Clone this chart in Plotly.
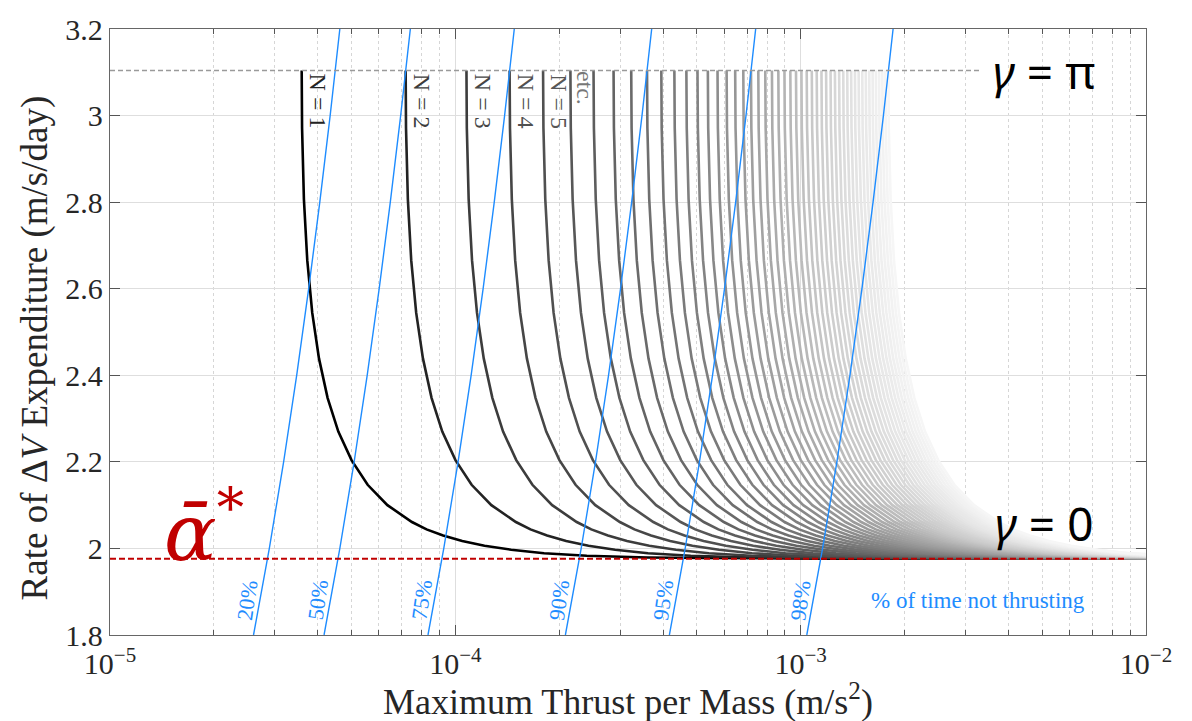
import numpy as np
import plotly.graph_objects as go

# ---------------- data ----------------
alpha_star = 1.976          # m/s/day, red dashed level
gamma_pi_level = 3.104      # m/s/day, grey dashed level (curve tops)
N_values = list(range(1, 51))
n1_asymptote = 3.59e-5      # m/s^2, x where the N = 1 curve tops out

# N = 1 curve: x as a multiple of its top position, and the rate (m/s/day)
base_mult = [1.0, 1.0025, 1.0148, 1.0378, 1.0729, 1.1221, 1.1884, 1.2766,
             1.3940, 1.5523, 1.7710, 2.0858, 2.2990, 2.5679, 2.9163, 3.3839,
             4.0420, 5.0335, 6.6917, 10.017, 14.297, 20.008, 33.338, 50.003,
             100.0, 300.0]
base_rate = [3.104, 2.971, 2.807, 2.666, 2.544, 2.439, 2.348, 2.270,
             2.204, 2.147, 2.100, 2.061, 2.044, 2.030, 2.017, 2.006,
             1.997, 1.989, 1.983, 1.979, 1.978, 1.977, 1.9763, 1.9761,
             1.976, 1.976]

# blue "% of time not thrusting" lines
pct_labels = ["20%", "50%", "75%", "90%", "95%", "98%"]
pct_x_bottom = [2.604e-5, 4.167e-5, 8.333e-5, 2.083e-4, 4.167e-4, 1.0417e-3]
blue_rate = [1.8, 2.0, 2.2, 2.4, 2.6, 2.8, 3.0, 3.2]
blue_mult = [1.0, 1.1111, 1.2222, 1.3333, 1.4444, 1.5556, 1.6667, 1.7778]

y_ticks = [1.8, 2.0, 2.2, 2.4, 2.6, 2.8, 3.0, 3.2]
x_ticks = [1e-5, 1e-4, 1e-3, 1e-2]
x_ticktext = ["10<sup>−5</sup>", "10<sup>−4</sup>", "10<sup>−3</sup>", "10<sup>−2</sup>"]
n_label_text = ["N = 1", "N = 2", "N = 3", "N = 4", "N = 5"]

# ---------------- styling ----------------
SERIF = "Liberation Serif"
BLUE = "rgb(30,140,255)"
RED = "#c00000"
gray_anchor_n = [1, 2, 3, 5, 8, 12, 19, 30, 40, 50]
gray_anchor_v = [0, 35, 60, 80, 100, 122, 155, 200, 228, 246]


def curve_color(n):
    g = int(round(np.interp(n, gray_anchor_n, gray_anchor_v)))
    return f"rgb({g},{g},{g})"


fig = go.Figure()

base_mult_arr = np.array(base_mult)
for n in N_values:
    fig.add_trace(go.Scatter(
        x=base_mult_arr * n1_asymptote * n, y=base_rate, mode="lines",
        line=dict(color=curve_color(n), width=2.6), hoverinfo="skip",
        showlegend=False))

blue_mult_arr = np.array(blue_mult)
for xb in pct_x_bottom:
    fig.add_trace(go.Scatter(
        x=blue_mult_arr * xb, y=blue_rate, mode="lines",
        line=dict(color=BLUE, width=1.4), hoverinfo="skip", showlegend=False))

fig.add_trace(go.Scatter(x=[1e-5, 8.8e-3], y=[alpha_star, alpha_star], mode="lines",
                         line=dict(color=RED, width=2, dash="6px,3px"),
                         hoverinfo="skip", showlegend=False))
fig.add_trace(go.Scatter(x=[1e-5, 3.3e-3], y=[gamma_pi_level, gamma_pi_level], mode="lines",
                         line=dict(color="#9a9a9a", width=1.5, dash="5px,3px"),
                         hoverinfo="skip", showlegend=False))

ann = []
# N labels
for i, t in enumerate(n_label_text):
    n = N_values[i]
    ann.append(dict(x=np.log10(n1_asymptote * n), y=3.033, xref="x", yref="y",
                    text=t, textangle=90, showarrow=False, xshift=16,
                    xanchor="center", yanchor="middle",
                    font=dict(family=SERIF, size=24, color=curve_color(n + 1))))
ann.append(dict(x=np.log10(n1_asymptote * 6), y=3.063, xref="x", yref="y",
                text="etc.", textangle=90, showarrow=False, xshift=14,
                xanchor="center", yanchor="middle",
                font=dict(family=SERIF, size=24, color="#777777")))
# percent labels
for t, xb in zip(pct_labels, pct_x_bottom):
    xl = np.interp(1.88, blue_rate, blue_mult) * xb
    ann.append(dict(x=np.log10(xl), y=1.88, xref="x", yref="y", text=t,
                    textangle=-82, showarrow=False, xshift=-13,
                    xanchor="center", yanchor="middle",
                    font=dict(family=SERIF, size=22, color=BLUE)))
ann.append(dict(x=-2.486, y=1.88, xref="x", yref="y", text="% of time not thrusting",
                showarrow=False, xanchor="center", yanchor="middle",
                font=dict(family=SERIF, size=23, color=BLUE)))
# gamma labels
ann.append(dict(x=-2.295, y=gamma_pi_level, xref="x", yref="y",
                text="<i>γ</i> = π", showarrow=False, xanchor="center", yanchor="middle",
                font=dict(family="Noto Sans", size=46, color="black")))
ann.append(dict(x=-2.295, y=2.059, xref="x", yref="y",
                text="<i>γ</i> = 0", showarrow=False, xanchor="center", yanchor="middle",
                font=dict(family="Noto Sans", size=46, color="black")))
# alpha bar star
ann.append(dict(x=0.05, y=2.05, xref="paper", yref="y",
                text="<i>α\u0304</i><sup>*</sup>", showarrow=False,
                xanchor="left", yanchor="middle",
                font=dict(family="DejaVu Serif", size=78, color=RED)))
# axis titles
ann.append(dict(x=-0.0724, y=0.4746, xref="paper", yref="paper",
                text="Rate of Δ<i>V</i> Expenditure (m/s/day)", textangle=-90,
                showarrow=False, xanchor="center", yanchor="middle",
                font=dict(family=SERIF, size=37, color="#262626")))
ann.append(dict(x=0.5, y=-0.106, xref="paper", yref="paper",
                text="Maximum Thrust per Mass (m/s<sup>2</sup>)",
                showarrow=False, xanchor="center", yanchor="middle",
                font=dict(family=SERIF, size=36, color="#262626")))

minor_x = [k * 10.0 ** d for d in (-5, -4, -3) for k in range(2, 10)]

fig.update_layout(
    width=1192, height=721,
    margin=dict(l=110, r=46, t=24, b=86),
    paper_bgcolor="white", plot_bgcolor="white",
    showlegend=False,
    annotations=ann,
    xaxis=dict(type="log", range=[-5, -2], tickmode="array", tickvals=x_ticks,
               ticktext=x_ticktext, ticks="inside", ticklen=10, tickcolor="#555",
               showline=True, linecolor="#666", linewidth=1.3, mirror="allticks",
               showgrid=True, gridcolor="#dedede", gridwidth=1, zeroline=False,
               ticklabelstandoff=2,
               tickfont=dict(family=SERIF, size=30, color="#262626"),
               minor=dict(tickmode="array", tickvals=minor_x, ticks="inside", ticklen=5,
                          tickcolor="#555", showgrid=True, gridcolor="#d6d6d6",
                          griddash="dot", gridwidth=1)),
    yaxis=dict(range=[1.8, 3.2], tickmode="array", tickvals=y_ticks,
               ticks="inside", ticklen=10, tickcolor="#555",
               showline=True, linecolor="#666", linewidth=1.3, mirror="allticks",
               showgrid=True, gridcolor="#dedede", gridwidth=1, zeroline=False,
               tickfont=dict(family=SERIF, size=30, color="#262626")),
)

# remove the default 8px page margin so the figure fills the window exactly
fig.write_html("out.html", config={"displayModeBar": False},
               post_script="document.body.style.margin='0px';")
